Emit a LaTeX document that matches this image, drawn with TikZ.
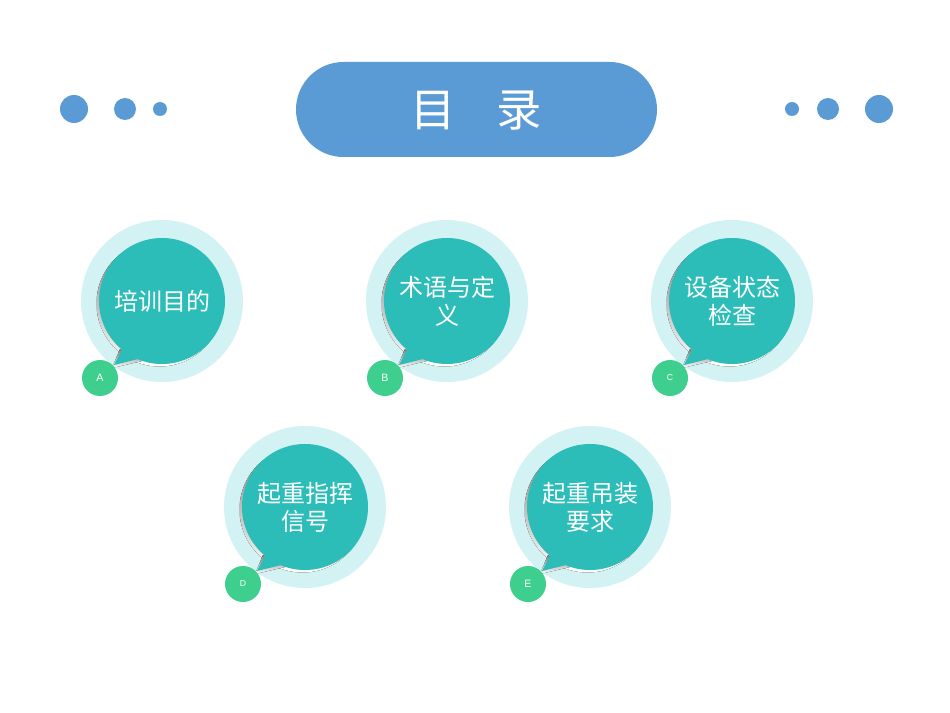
\documentclass[tikz,border=0pt]{standalone}
\usepackage{fontspec}
\setmainfont{Liberation Sans}
\newfontfamily\cjk{Noto Sans CJK SC}
\definecolor{pill}{HTML}{5B9BD5}
\definecolor{halo}{HTML}{D3F2F3}
\definecolor{teal}{HTML}{2DBDB8}
\definecolor{badge}{HTML}{3ECF8E}
\definecolor{shade}{HTML}{8A9A9A}
\begin{document}
\begin{tikzpicture}[x=0.75pt,y=-0.75pt,
  lbl/.style={text=white,font=\cjk\fontsize{18}{21}\selectfont,align=center,text width=80pt},
  blet/.style={text=white,font=\fontsize{8}{9}\selectfont}]
\useasboundingbox (0,0) rectangle (950,713);
\fill[white] (0,0) rectangle (950,713);
\fill[pill,rounded corners=47.5*0.75pt] (296,62) rectangle (657,157);
\node[text=white,font=\cjk\fontsize{34}{40}\selectfont] (title) at (476.5,110) {目\hspace{0.9em}录};
\foreach \x/\r in {74/14,125/11,160/7,792/7,828/11,879/14}
  \fill[pill] (\x,109) circle[radius=\r];
\newcommand\bubble[5]{%
  \fill[halo] (#1,#2) circle[radius=81];
  \begin{scope}[shift={(#1,#2)}]
    \fill[shade] (-2.5,2.5) circle[radius=63];
    \fill[shade] (-42,48) -- (-50,67) -- (-20,60) -- cycle;
    \fill[teal] (0,0) circle[radius=63];
    \fill[teal] (-38,45) -- (-48,64) -- (-20,57) -- cycle;
    \fill[badge] (-62,77) circle[radius=18];
    \node[blet,font=\fontsize{#5}{9}\selectfont] (b#3) at (-62,77) {#3};
  \end{scope}
  \node[lbl] (t#3) at (#1,#2) {#4};}
\bubble{162}{301}{A}{培训目的}{8}
\bubble{447}{301}{B}{术语与定\\义}{8}
\bubble{732}{301}{C}{设备状态\\检查}{6.5}
\bubble{305}{507}{D}{起重指挥\\信号}{6.5}
\bubble{590}{507}{E}{起重吊装\\要求}{8}
\end{tikzpicture}
\end{document}
